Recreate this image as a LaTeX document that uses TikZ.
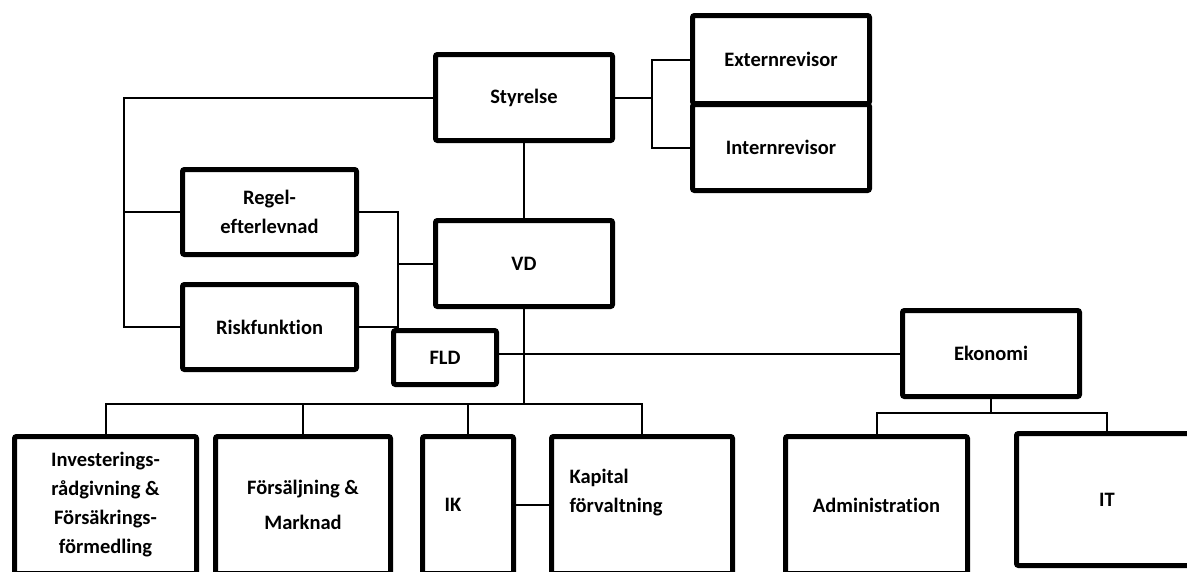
\documentclass[tikz,border=0pt]{standalone}
\usepackage{fontspec}
\setmainfont{Carlito}[Ligatures=NoCommon]
\usetikzlibrary{positioning,calc}

\begin{document}
\begin{tikzpicture}[
  x=1pt, y=-1pt,
  font=\fontsize{20.5}{29}\selectfont\bfseries,
  every node/.style={align=center},
  unit/.style={draw, line width=5pt, rounded corners=2pt, inner sep=0pt, minimum width=177pt, minimum height=86pt},
  dept/.style={unit, minimum height=137pt},
  link/.style={line width=2pt},
]
  \clip (0,0) rectangle (1187,571);

  % board and auditors
  \node[unit] (styrelse) at (524,97.5) {Styrelse};
  \node[unit, minimum height=88pt] (extern) at (781,59.5) {Externrevisor};
  \node[unit, below=-4pt of extern] (intern) {Internrevisor};
  \node[unit, below=75pt of styrelse] (vd) {VD};

  % control functions
  \node[unit, minimum width=174pt, minimum height=85pt] (regel) at (269.5,212) {Regel-\\efterlevnad};
  \node[unit, minimum width=174pt, minimum height=85pt, below=25pt of regel] (risk) {Riskfunktion};
  \node[unit, minimum width=103pt, minimum height=54pt] (fld) at (445,357.5) {FLD};
  \node[unit] (ekonomi) at (991,353.5) {Ekonomi};

  % business units
  \node[dept, minimum width=182pt] (invest) at (105.5,505) {Investerings-\\rådgivning \&\\Försäkrings-\\förmedling};
  \node[dept, minimum width=175pt, right=14pt of invest] (salj) {Försäljning \&\\[6pt]Marknad};
  \node[dept, minimum width=91pt, right=27pt of salj] (ik) {IK\hspace*{30pt}};
  \node[dept, minimum width=181pt, right=33pt of ik] (kapital) {};
  \node[anchor=west, align=left] (kaptext) at ($(kapital.west)+(17,-12)$) {Kapital\\förvaltning};
  \node[dept, minimum width=182pt, right=48pt of kapital] (admin) {Administration};
  \node[dept, minimum width=181pt, minimum height=132pt] (it) at (1107,499.5) {IT};

  % connectors
  \coordinate (lft) at ([xshift=-56pt]risk.west);
  \draw[link] (styrelse.west) -| (lft) -- (risk.west);
  \draw[link] (regel.west) -- (regel.west -| lft);

  \coordinate (brk) at ([xshift=37pt]styrelse.east);
  \draw[link] (styrelse.east) -- (brk);
  \draw[link] (extern.west) -| (brk) |- (intern.west);
  \draw[link] (styrelse.south) -- (vd.north);

  \coordinate (mid) at ([xshift=39pt]risk.east);
  \draw[link] (regel.east) -| (mid) -- (risk.east);
  \draw[link] (vd.west) -- (vd.west -| mid);
  \draw[link] (ekonomi.west -| fld.east) -- (ekonomi.west);

  \coordinate (bus) at ($(vd.south)+(0,95)$);
  \draw[link] (vd.south) -- (bus);
  \draw[link] (invest.north) |- (bus) -| (kapital.north);
  \draw[link] (salj.north) -- (salj.north |- bus);
  \draw[link] (ik.north) -- (ik.north |- bus);
  \draw[link] (ik.east) -- (kapital.west);

  \coordinate (ebus) at ($(ekonomi.south)+(0,14)$);
  \draw[link] (ekonomi.south) -- (ebus);
  \draw[link] (admin.north) |- (ebus) -| (it.north);
\end{tikzpicture}
\end{document}
